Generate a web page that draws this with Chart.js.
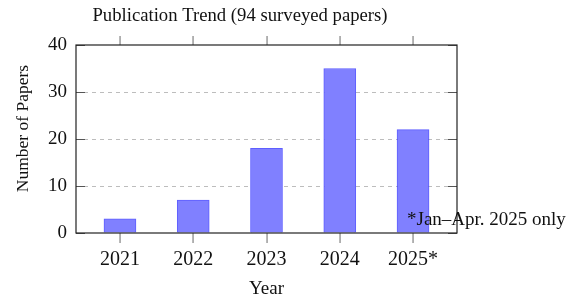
<!DOCTYPE html>
<html>
<head>
<meta charset="utf-8">
<script src="https://cdn.jsdelivr.net/npm/chart.js@4.4.1/dist/chart.umd.min.js"></script>
<style>
  html, body { margin: 0; padding: 0; background: #fff; }
  #wrap { width: 580px; height: 301px; }
</style>
</head>
<body>
<div id="wrap"><canvas id="myChart" width="580" height="301"></canvas></div>
<script>
// Data
const years = ["2021", "2022", "2023", "2024", "2025*"];
const papers = [3, 7, 18, 35, 22];
const yTicks = [0, 10, 20, 30, 40];
const chartTitle = "Publication Trend (94 surveyed papers)";
const yLabel = "Number of Papers";
const xLabel = "Year";
const footNote = "*Jan\u2013Apr. 2025 only";

const serif = "'Liberation Serif', 'DejaVu Serif', serif";
const ctx = document.getElementById('myChart');

// frame, ticks and free text (pgfplots look)
const framePlugin = {
  id: 'frame',
  afterDraw(chart) {
    const c = chart.ctx;
    const area = chart.chartArea;
    const x = chart.scales.x;
    const y = chart.scales.y;
    c.save();

    // x ticks, outward on top and bottom
    for (let i = 0; i < years.length; i++) {
      const px = Math.round(x.getPixelForValue(i));
      c.fillStyle = '#8c8c8c';
      c.fillRect(px - 0.6, area.top - 9, 1.3, 9);
      c.fillRect(px - 0.6, area.bottom, 1.3, 10);
    }

    // y ticks, inside on both sides
    c.strokeStyle = '#555';
    c.lineWidth = 1;
    yTicks.forEach(function (v) {
      const py = Math.round(y.getPixelForValue(v)) + 0.5;
      c.beginPath();
      c.moveTo(area.left, py);
      c.lineTo(area.left + 9, py);
      c.moveTo(area.right - 9, py);
      c.lineTo(area.right, py);
      c.stroke();
    });

    // frame
    c.strokeStyle = '#222';
    c.lineWidth = 1.2;
    c.strokeRect(area.left, area.top, area.right - area.left, area.bottom - area.top);

    c.fillStyle = '#111';
    // title
    c.font = '18.7px ' + serif;
    c.textAlign = 'center';
    c.textBaseline = 'alphabetic';
    c.fillText(chartTitle, 240, 21);

    // y label
    c.save();
    c.translate(28, 128.5);
    c.rotate(-Math.PI / 2);
    c.font = '17.5px ' + serif;
    c.fillText(yLabel, 0, 0);
    c.restore();

    // note
    c.font = '19px ' + serif;
    c.textAlign = 'left';
    c.fillText(footNote, 407, 225);

    c.restore();
  }
};

new Chart(ctx, {
  type: 'bar',
  data: {
    datasets: [{
      data: papers.map(function (v, i) { return { x: i, y: v }; }),
      backgroundColor: '#8080ff',
      borderColor: 'rgba(40,40,255,0.75)',
      borderWidth: 1,
      borderSkipped: 'start',
      barThickness: 32
    }]
  },
  options: {
    responsive: false,
    animation: false,
    events: [],
    layout: {
      padding: { top: 45, right: 123, left: 0, bottom: 0 }
    },
    plugins: {
      legend: { display: false },
      tooltip: { enabled: false },
      title: { display: false }
    },
    scales: {
      x: {
        type: 'linear',
        min: -0.6,
        max: 4.6,
        offset: false,
        afterBuildTicks: function (scale) {
          scale.ticks = years.map(function (_, i) { return { value: i }; });
        },
        afterFit: function (scale) {
          scale.height = 68;
        },
        ticks: {
          autoSkip: false,
          maxRotation: 0,
          padding: 15,
          color: '#111',
          font: { family: serif, size: 20 },
          callback: function (v) { return years[v]; }
        },
        grid: { display: false, drawTicks: false },
        border: { display: false },
        title: {
          display: true,
          text: xLabel,
          color: '#111',
          font: { family: serif, size: 19 },
          padding: { top: 0, bottom: 1 }
        }
      },
      y: {
        min: 0,
        max: 40,
        afterBuildTicks: function (scale) {
          scale.ticks = yTicks.map(function (v) { return { value: v }; });
        },
        afterFit: function (scale) {
          scale.width = 76;
        },
        ticks: {
          padding: 9,
          color: '#111',
          font: { family: serif, size: 19 }
        },
        grid: {
          drawTicks: false,
          color: function (c) {
            const v = c.tick ? c.tick.value : 0;
            return (v === 0 || v === 40) ? 'rgba(0,0,0,0)' : '#bdbdbd';
          },
          lineWidth: 1
        },
        border: { display: false, dash: [4, 4] }
      }
    }
  },
  plugins: [framePlugin]
});
</script>
</body>
</html>
